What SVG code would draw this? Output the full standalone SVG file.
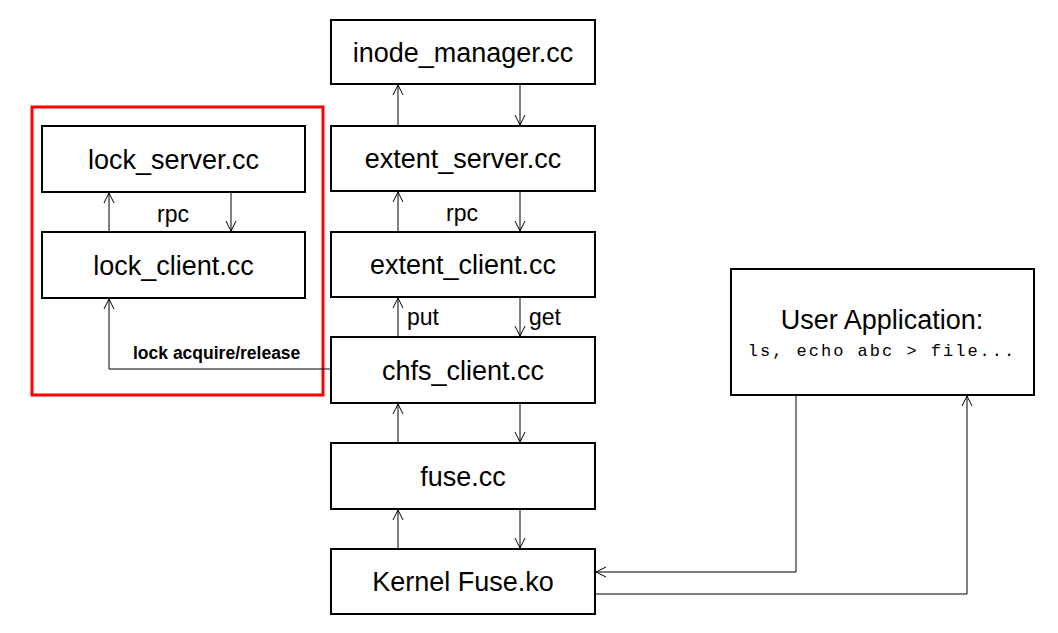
<svg xmlns="http://www.w3.org/2000/svg" width="1058" height="633" viewBox="0 0 1058 633">
<defs>
<marker id="ah" markerWidth="12" markerHeight="12" refX="10" refY="6" orient="auto" markerUnits="userSpaceOnUse">
<path d="M0,1 L10,6 L0,11" fill="none" stroke="#000" stroke-width="1"/>
</marker>
<style>
.box{fill:#fff;stroke:#000;stroke-width:2}
.lbl{font-family:"Liberation Sans",Arial,sans-serif;font-size:27px;fill:#000;text-anchor:middle}
.sm{font-family:"Liberation Sans",Arial,sans-serif;font-size:23px;fill:#000}
.c{fill:none;stroke:#000;stroke-width:1;marker-end:url(#ah)}
</style>
</defs>
<rect width="1058" height="633" fill="#fff"/>
<rect id="lock-group" x="32" y="107" width="291" height="288" fill="none" stroke="#ff0000" stroke-width="3"/>
<g id="lock_server"><rect class="box" x="42" y="126" width="263" height="66"/><text class="lbl" x="173.5" y="169">lock_server.cc</text></g>
<g id="lock_client"><rect class="box" x="42" y="232" width="263" height="66"/><text class="lbl" x="173.5" y="275">lock_client.cc</text></g>
<g id="inode_manager"><rect class="box" x="331" y="20" width="264" height="64"/><text class="lbl" x="463" y="62">inode_manager.cc</text></g>
<g id="extent_server"><rect class="box" x="331" y="126" width="264" height="65"/><text class="lbl" x="463" y="168">extent_server.cc</text></g>
<g id="extent_client"><rect class="box" x="331" y="232" width="264" height="65"/><text class="lbl" x="463" y="274">extent_client.cc</text></g>
<g id="chfs_client"><rect class="box" x="331" y="337" width="264" height="66"/><text class="lbl" x="463" y="380">chfs_client.cc</text></g>
<g id="fuse"><rect class="box" x="331" y="443" width="264" height="66"/><text class="lbl" x="463" y="486">fuse.cc</text></g>
<g id="kernel_fuse"><rect class="box" x="331" y="549" width="264" height="65"/><text class="lbl" x="463" y="591">Kernel Fuse.ko</text></g>
<g id="user_app"><rect class="box" x="731" y="269" width="303" height="126"/>
<text class="lbl" x="882" y="329">User Application:</text>
<text x="882" y="356" font-family="'Liberation Mono','DejaVu Sans Mono',monospace" font-size="17" letter-spacing="2" text-anchor="middle">ls, echo abc &gt; file...</text></g>
<g id="connectors">
<path class="c" d="M398,126 V85"/>
<path class="c" d="M520,85 V125"/>
<path class="c" d="M398,232 V192"/>
<path class="c" d="M520,192 V231"/>
<path class="c" d="M398,337 V298"/>
<path class="c" d="M520,298 V336"/>
<path class="c" d="M398,443 V404"/>
<path class="c" d="M520,404 V442"/>
<path class="c" d="M398,549 V510"/>
<path class="c" d="M520,510 V548"/>
<path class="c" d="M109,232 V193"/>
<path class="c" d="M231,193 V231"/>
<path class="c" d="M331,369 H109 V299"/>
<path class="c" d="M796,396 V572 H596"/>
<path class="c" d="M596,594 H967 V396"/>
</g>
<text class="sm" x="173" y="222" text-anchor="middle">rpc</text>
<text class="sm" x="462" y="221" text-anchor="middle">rpc</text>
<text class="sm" x="407" y="325">put</text>
<text class="sm" x="529" y="325">get</text>
<text x="133" y="359" font-family="'Liberation Sans',Arial,sans-serif" font-size="17.5" font-weight="bold">lock acquire/release</text>
</svg>
